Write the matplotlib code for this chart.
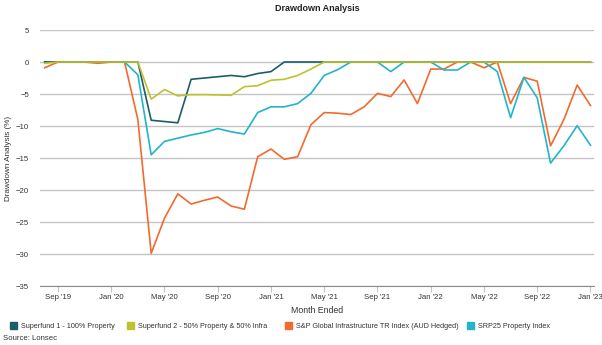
import numpy as np
import pandas as pd
import matplotlib
matplotlib.use("Agg")
import matplotlib.pyplot as plt

plt.rcParams['font.family'] = ['Liberation Sans', 'DejaVu Sans']

# monthly drawdown data, Aug 2019 - Jan 2023
months = pd.date_range("2019-08-01", "2023-01-01", freq="MS")

superfund1 = [0, 0, 0, 0, 0, 0, 0, 0, -9.1, -9.3, -9.5, -2.7, -2.5, -2.3,
              -2.1, -2.3, -1.8, -1.5, 0, 0, 0, 0, 0, 0, 0, 0, 0, 0, 0, 0,
              0, 0, 0, 0, 0, 0, 0, 0, 0, 0, 0, 0]
superfund2 = [-0.2, 0, 0, 0, 0, 0, 0, 0, -5.8, -4.3, -5.3, -5.1, -5.1, -5.15,
              -5.2, -3.85, -3.7, -2.85, -2.7, -2.1, -1.1, 0, 0, 0, 0, 0, 0, 0,
              0, 0, 0, 0, 0, 0, 0, 0, 0, 0, 0, 0, 0, 0]
sp_infra = [-0.9, 0, 0, 0, -0.2, 0, 0, -9.0, -29.9, -24.4, -20.6, -22.2, -21.6,
            -21.1, -22.5, -23.0, -14.8, -13.6, -15.2, -14.8, -9.8, -7.9, -8.0,
            -8.2, -7.0, -4.9, -5.4, -2.8, -6.5, -1.1, -1.1, 0, 0, -0.9, 0,
            -6.5, -2.4, -3.0, -13.1, -9.0, -3.6, -6.8]
srp25 = [0, 0, 0, 0, 0, 0, 0, -2.0, -14.5, -12.4, -11.9, -11.4, -11.0, -10.4,
         -10.9, -11.25, -7.9, -7.0, -7.0, -6.5, -4.9, -2.1, -1.2, 0, 0, 0,
         -1.5, 0, 0, 0, -1.25, -1.25, 0, 0, -1.5, -8.7, -2.4, -5.6, -15.8,
         -13.1, -9.95, -13.0]

names = ["Superfund 1 - 100% Property",
         "Superfund 2 - 50% Property & 50% Infra",
         "S&P Global Infrastructure TR Index (AUD Hedged)",
         "SRP25 Property Index"]
colors = ["#1d5d69", "#bfc22c", "#f26a2e", "#23b4cc"]

x = np.arange(len(months))
tick_idx = [i for i, m in enumerate(months) if m.month in (1, 5, 9)]
tick_labels = [months[i].strftime("%b '%y") for i in tick_idx]

W, H = 602, 345
fig = plt.figure(figsize=(W / 100, H / 100), dpi=100)
ax = fig.add_axes([0.0665, 0.171, 0.921, 0.742])

series = [sp_infra, srp25, superfund1, superfund2]
order = [2, 3, 0, 1]
for s, k in zip(series, order):
    ax.plot(x, s, color=colors[k], lw=1.2, zorder=3)

ax.set_xlim(-0.35, 41.3)
ax.set_ylim(-35, 5)
ax.set_yticks(np.arange(-35, 6, 5))
ax.set_xticks(tick_idx)
ax.set_xticklabels(tick_labels)
ax.yaxis.grid(True, color="#c4c4c4", lw=1.0)
ax.set_axisbelow(True)
for sp in ["top", "right", "left"]:
    ax.spines[sp].set_visible(False)
ax.spines["bottom"].set_color("#8c8c8c")
ax.tick_params(axis="y", length=0, labelsize=5.6, colors="#333333", pad=8)
ax.tick_params(axis="x", length=4, color="#c4c4c4", labelsize=5.6,
               labelcolor="#333333", pad=2)

ax.set_xlabel("Month Ended", fontsize=6.3, color="#333333", labelpad=3)
ax.set_ylabel("Drawdown Analysis (%)", fontsize=5.9, color="#333333")
ax.yaxis.set_label_coords(-0.05, 0.5)
ax.set_title("Drawdown Analysis", fontsize=6.5, fontweight="bold",
             color="#222222", pad=14)

# legend entries laid out in a row under the axis
legend_x = [13, 130, 288, 470]
for lx, c, name in zip(legend_x, colors, names):
    fig.patches.append(plt.Rectangle((lx / W - 3.5 / W, 1 - 329 / H), 7 / W, 7 / H,
                                     transform=fig.transFigure, color=c))
    fig.text((lx + 8) / W, 1 - 326 / H, name, fontsize=5.2, color="#333333",
             va="center")
fig.text(3 / W, 1 - 339 / H, "Source: Lonsec", fontsize=5.6, color="#333333",
         va="center")

fig.savefig("out.png", dpi=100)
